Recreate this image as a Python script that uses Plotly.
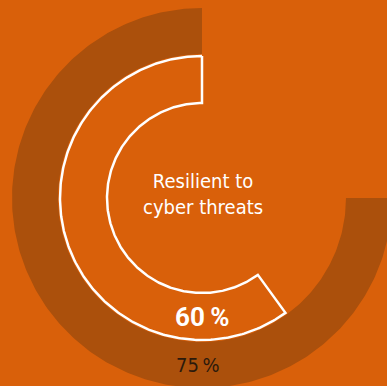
import numpy as np
import plotly.graph_objects as go

# ---- data ----
center_label = "Resilient to<br>cyber threats"
inner_share = 60      # % (white outlined ring)
outer_share = 75      # % (dark ring)
inner_text = "60\u2009%"
outer_text = "75\u2009%"

# ---- style ----
BG = "#D9600A"
DARK = "#AB500C"
R_OUT = (144, 190)
R_IN = (95, 142)


def ring(r0, r1, share, n=300):
    th = np.deg2rad(90 + 360 * share / 100 * np.linspace(0, 1, n))
    x = np.concatenate([r1 * np.cos(th), r0 * np.cos(th[::-1]), [r1 * np.cos(th[0])]])
    y = np.concatenate([r1 * np.sin(th), r0 * np.sin(th[::-1]), [r1 * np.sin(th[0])]])
    return x, y


fig = go.Figure()
xo, yo = ring(*R_OUT, outer_share)
fig.add_trace(go.Scatter(x=xo, y=yo, mode="lines", fill="toself", fillcolor=DARK,
                         line=dict(width=0, color=DARK), hoverinfo="skip"))
xi, yi = ring(*R_IN, inner_share)
fig.add_trace(go.Scatter(x=xi, y=yi, mode="lines", line=dict(width=2.5, color="white"),
                         hoverinfo="skip"))

NARROW = "DejaVu Sans Condensed, Liberation Sans Narrow, sans-serif"
fig.add_annotation(x=1, y=4, text=center_label, showarrow=False,
                   font=dict(family=NARROW, size=20, color="white"),
                   xanchor="center", yanchor="middle")
fig.add_annotation(x=0, y=-119, text="<b>" + inner_text + "</b>", showarrow=False,
                   font=dict(family="Roboto, sans-serif", size=26, color="white"),
                   xanchor="center", yanchor="middle")
fig.add_annotation(x=-4, y=-167, text=outer_text, showarrow=False,
                   font=dict(family=NARROW, size=20, color="#2B1A0C"),
                   xanchor="center", yanchor="middle")

fig.update_layout(
    width=387, height=386, margin=dict(l=0, r=0, t=0, b=0),
    paper_bgcolor=BG, plot_bgcolor=BG, showlegend=False,
    xaxis=dict(range=[-202, 185], visible=False, fixedrange=True),
    yaxis=dict(range=[-188, 198], visible=False, fixedrange=True),
)
fig.write_html("out.html", config={"displayModeBar": False},
               post_script="document.body.style.margin='0';document.body.style.overflow='hidden';")
